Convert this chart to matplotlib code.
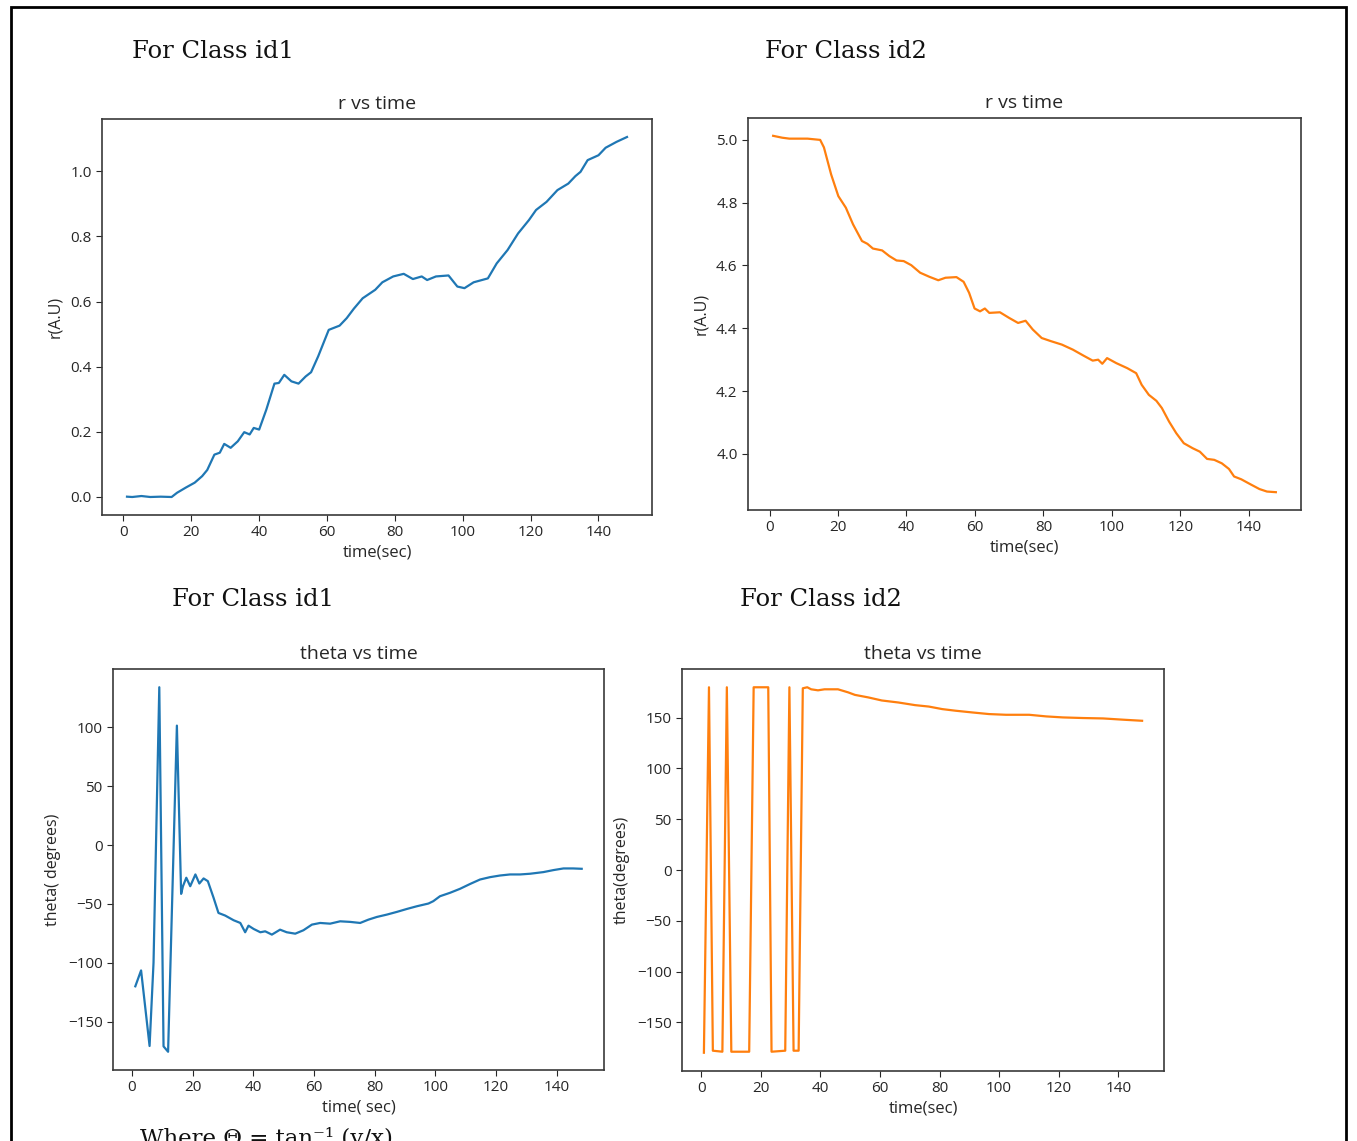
import matplotlib
matplotlib.use("Agg")
import matplotlib.pyplot as plt
from matplotlib.patches import Rectangle

# ---------------- data ----------------
t_r1 = [1.05, 2.6, 5.3, 7.9, 11, 14.2, 15.8, 18.4, 21, 23.2, 24.7, 26.8, 28.4, 29.7, 31.6,
        33.7, 35.6, 37.2, 38.4, 40, 42.1, 44.5, 45.8, 47.4, 49.5, 51.6, 53.7, 55.3, 57.4,
        60.5, 63.7, 65.8, 67.9, 70.5, 74.2, 76.3, 79.5, 82.6, 85.3, 87.9, 89.5, 92.1, 95.8,
        98.4, 100.5, 103.2, 107.4, 110, 113.2, 116.3, 119.5, 121.6, 124.7, 127.9, 131.1,
        133.2, 134.7, 136.8, 140, 142.1, 145.3, 148.4]
r1 = [0.001, 0.0, 0.003, 0.0, 0.001, 0.0, 0.013, 0.029, 0.044, 0.064, 0.083, 0.13, 0.136,
      0.163, 0.151, 0.171, 0.199, 0.192, 0.212, 0.207, 0.268, 0.348, 0.35, 0.375, 0.355,
      0.348, 0.37, 0.383, 0.432, 0.513, 0.526, 0.549, 0.578, 0.61, 0.636, 0.659, 0.677,
      0.685, 0.669, 0.677, 0.666, 0.677, 0.68, 0.646, 0.641, 0.659, 0.671, 0.717, 0.758,
      0.809, 0.85, 0.881, 0.906, 0.942, 0.962, 0.985, 0.998, 1.034, 1.049, 1.072, 1.09, 1.105]

t_r2 = [1.06, 3.7, 5.8, 11.1, 14.8, 15.9, 18, 20.1, 22.3, 24.4, 27, 28.6, 30.2, 32.9, 35,
        37.1, 39.2, 41.4, 44, 46.7, 49.3, 51.4, 54.6, 56.7, 58.3, 59.9, 61.5, 62.9, 64.2,
        67.3, 70, 72.6, 74.8, 76.9, 79.5, 82.2, 85.4, 88.6, 91.7, 94.4, 96, 97.2, 98.6,
        101.3, 104.5, 107.1, 108.7, 110.8, 113, 114.6, 116.7, 118.8, 121, 123.6, 125.7,
        127.8, 129.9, 132.1, 134.2, 135.7, 137.8, 140.5, 143.1, 145.3, 147.9]
r2 = [5.013, 5.007, 5.004, 5.004, 5.0, 4.976, 4.89, 4.821, 4.784, 4.731, 4.678, 4.669,
      4.654, 4.648, 4.63, 4.616, 4.614, 4.601, 4.577, 4.564, 4.553, 4.561, 4.563, 4.548,
      4.513, 4.463, 4.454, 4.463, 4.449, 4.451, 4.433, 4.417, 4.424, 4.396, 4.369, 4.359,
      4.348, 4.332, 4.313, 4.297, 4.3, 4.287, 4.305, 4.289, 4.273, 4.257, 4.22, 4.188,
      4.169, 4.146, 4.103, 4.066, 4.034, 4.018, 4.007, 3.984, 3.981, 3.97, 3.952, 3.928,
      3.919, 3.903, 3.888, 3.88, 3.878]

t_th1 = [1.1, 3, 4.4, 5.8, 7.1, 9, 10.4, 11.9, 14.8, 16.2, 16.8, 17.9, 19.2, 20.9, 22.2,
         23.6, 25, 26.9, 28.5, 30.7, 33.5, 35.7, 37.3, 38.4, 40.1, 42.3, 43.9, 46.1, 48.8,
         51, 53.8, 56.5, 59.3, 62, 65.3, 68.6, 71.9, 75.2, 77.9, 80.7, 84, 87.3, 90.6,
         93.9, 97.7, 99.3, 101.5, 104.8, 108.1, 111.5, 114.7, 118, 121.3, 124.6, 127.9,
         131.2, 135.6, 138.9, 142.2, 145.4, 148.2]
th1 = [-120, -106.5, -138.6, -170.7, -100, 134, -171, -175.6, 101.4, -41.5, -35, -27.8,
       -35, -25, -32.7, -28.4, -30.7, -44.9, -57.7, -59.9, -63.9, -66.2, -74.1, -68.5,
       -71.3, -74.1, -73.3, -76.1, -71.9, -74.1, -75.3, -72.4, -67.6, -66.2, -66.8, -64.8,
       -65.3, -66.2, -63.4, -61.1, -59.1, -56.8, -54.3, -52, -49.7, -47.7, -43.5, -40.6,
       -37.2, -33, -29.3, -27.3, -25.9, -25, -25, -24.4, -23, -21.3, -19.9, -19.9, -20.2]

t_th2 = [0.9, 2.6, 3.9, 7.1, 8.6, 10.1, 16.1, 17.6, 22.5, 23.6, 28.2, 29.6, 31, 32.7, 34.1,
         35.6, 36.9, 39.2, 41.4, 45.9, 49.3, 51.6, 56.1, 60.6, 66.2, 71.8, 76.4, 80.9,
         85.4, 91, 96.6, 102.3, 110.1, 115.8, 121.4, 128.2, 134.9, 142, 148]
th2 = [-180, 180, -178, -179, 180, -179, -179, 180, 180, -179, -178, 180, -178, -178, 179,
       180, 178, 177, 178, 178, 175, 172.5, 170, 167, 165, 162.4, 161, 158.5, 156.9,
       155.2, 153.6, 152.9, 152.9, 151.3, 150.3, 149.7, 149.3, 148, 147]

x_ticks = [0, 20, 40, 60, 80, 100, 120, 140]

# ---------------- figure ----------------
W, H = 1357, 1141
fig = plt.figure(figsize=(W / 100, H / 100), dpi=100)
fig.patch.set_facecolor("white")

sans = ["Open Sans", "DejaVu Sans"]
serif = ["DejaVu Serif"]
spine_col = "#3a3a3a"
txt_col = "#262626"


def ax_at(l, t, r, b):
    return fig.add_axes([l / W, 1 - b / H, (r - l) / W, (b - t) / H])


def style(ax, title, xlabel, ylabel):
    ax.set_title(title, fontsize=14, family=sans, pad=7, color=txt_col)
    ax.set_xlabel(xlabel, fontsize=12, family=sans, color=txt_col, labelpad=3)
    ax.set_ylabel(ylabel, fontsize=11.5, family=sans, color=txt_col, labelpad=5)
    ax.set_xticks(x_ticks)
    for s in ax.spines.values():
        s.set_color(spine_col)
        s.set_linewidth(1.2)
    ax.tick_params(labelsize=11, colors=txt_col, length=4.5, pad=3)
    for lab in ax.get_xticklabels() + ax.get_yticklabels():
        lab.set_family(sans)


ax1 = ax_at(102, 119, 652, 515)
ax1.plot(t_r1, r1, color="#1f77b4", lw=1.6)
style(ax1, "r vs time", "time(sec)", "r(A.U)")

ax2 = ax_at(748, 118, 1301, 510)
ax2.plot(t_r2, r2, color="#ff7f0e", lw=1.6)
style(ax2, "r vs time", "time(sec)", "r(A.U)")

ax3 = ax_at(113, 669, 604, 1070)
ax3.plot(t_th1, th1, color="#1f77b4", lw=1.6)
style(ax3, "theta vs time", "time( sec)", "theta( degrees)")

ax4 = ax_at(682, 669, 1164, 1071)
ax4.plot(t_th2, th2, color="#ff7f0e", lw=1.6)
style(ax4, "theta vs time", "time(sec)", "theta(degrees)")


# headings
def head(x, y, s):
    fig.text(x / W, 1 - y / H, s, fontsize=17.5, family=serif, va="baseline", ha="left",
             color="#111111")


head(132, 58, "For Class id1")
head(765, 58, "For Class id2")
head(172, 606, "For Class id1")
head(740, 606, "For Class id2")
fig.text(140 / W, 1 - 1145 / H, "Where Θ = tan⁻¹ (y/x)", fontsize=16.5, family=serif,
         va="baseline", ha="left", color="#111111")

# outer frame
fig.patches.append(Rectangle((11 / W, -0.1), (1346 - 11) / W, 1.1 - 7 / H,
                             transform=fig.transFigure, fill=False, lw=2.0,
                             edgecolor="black", figure=fig))

fig.savefig("out.png", dpi=100)
